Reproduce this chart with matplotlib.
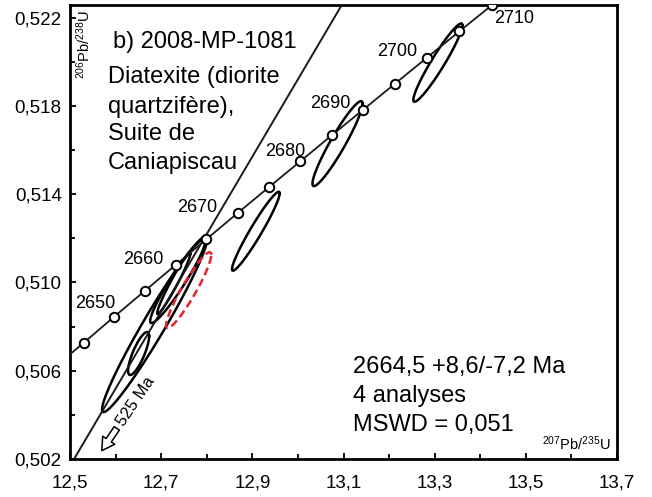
import numpy as np
import matplotlib
matplotlib.use("Agg")
import matplotlib.pyplot as plt
from matplotlib.ticker import MultipleLocator

plt.rcParams['font.family'] = ['Liberation Sans', 'DejaVu Sans']
plt.rcParams['mathtext.fontset'] = 'custom'
plt.rcParams['mathtext.rm'] = 'Liberation Sans'
plt.rcParams['mathtext.it'] = 'Liberation Sans:italic'
plt.rcParams['mathtext.bf'] = 'Liberation Sans:bold'
plt.rcParams['mathtext.default'] = 'regular'

# ---------------- data ----------------
# Concordia curve points (age in Ma, 207Pb/235U, 206Pb/238U)
conc_ages = [2640, 2645, 2650, 2655, 2660, 2665, 2670, 2675, 2680, 2685,
             2690, 2695, 2700, 2705, 2710]
conc_x = [12.4637, 12.5303, 12.5971, 12.6642, 12.7316, 12.7994, 12.8675,
          12.9360, 13.0048, 13.0739, 13.1434, 13.2132, 13.2834, 13.3539,
          13.4247]
conc_y = [0.50611, 0.50727, 0.50845, 0.50962, 0.51079, 0.51196, 0.51314,
          0.51431, 0.51548, 0.51666, 0.51783, 0.51901, 0.52019, 0.52137,
          0.52255]
label_ages = [2650, 2660, 2670, 2680, 2690, 2700, 2710]

# Analyses (error ellipses): 207/235, 2s, 206/238, 2s, rho
ell_x = [12.6857, 12.6505, 12.7363, 12.7275, 12.9077, 13.0868, 13.3070]
ell_sx = [0.1154, 0.0231, 0.0604, 0.0363, 0.0523, 0.0549, 0.0538]
ell_y = [0.50811, 0.50678, 0.51006, 0.50995, 0.51232, 0.51629, 0.51996]
ell_sy = [0.003985, 0.000974, 0.001902, 0.001381, 0.001789, 0.001925, 0.001775]
ell_rho = [0.970, 0.80, 0.950, 0.97, 0.96, 0.94, 0.95]

# Excluded analysis (red dashed)
red_x, red_sx, red_y, red_sy, red_rho = 12.7604, 0.04945, 0.50965, 0.001721, 0.93

# Discordia line end points
disc_x = [12.509, 13.097]
disc_y = [0.502, 0.5226]

xtick_vals = [12.5, 12.7, 12.9, 13.1, 13.3, 13.5, 13.7]
xtick_labels = ['12,5', '12,7', '12,9', '13,1', '13,3', '13,5', '13,7']
ytick_vals = [0.502, 0.506, 0.510, 0.514, 0.518, 0.522]
ytick_labels = ['0,502', '0,506', '0,510', '0,514', '0,518', '0,522']

sample_title = 'b) 2008-MP-1081'
sample_lines = ['Diatexite (diorite', 'quartzifère),', 'Suite de', 'Caniapiscau']
result_lines = ['2664,5 +8,6/-7,2 Ma', '4 analyses', 'MSWD = 0,051']

# ---------------- layout ----------------
label_offsets = {2650: (-19, 13), 2660: (-32, 5), 2670: (-40, 6),
                 2680: (-15, 10), 2690: (-33, 6), 2700: (-30, 6),
                 2710: (23, -13)}
sample_baselines = [83, 113, 140.5, 168.5]
result_baselines = [373, 402, 431.5]

fig = plt.figure(figsize=(6.52, 4.97), dpi=100)
ax = fig.add_axes([70/652, 1-459/497, (617-70)/652, (459-5)/497])
ax.set_xlim(12.5, 13.7)
ax.set_ylim(0.502, 0.52257)


def fx(px):
    return (px - 70) / 547


def fy(py):
    return (459 - py) / 454


t = np.linspace(0, 2*np.pi, 400)


def ellipse(cx, sx, cy, sy, rho):
    xs = cx + sx*np.cos(t)
    ys = cy + sy*(rho*np.cos(t) + np.sqrt(1-rho**2)*np.sin(t))
    return xs, ys


for cx, sx, cy, sy, r in zip(ell_x, ell_sx, ell_y, ell_sy, ell_rho):
    xs, ys = ellipse(cx, sx, cy, sy, r)
    ax.plot(xs, ys, color='black', lw=1.8, zorder=2)

xs, ys = ellipse(red_x, red_sx, red_y, red_sy, red_rho)
ax.plot(xs, ys, color='#e3242b', lw=1.8, ls=(0, (3.2, 1.7)), zorder=2)

ax.plot(disc_x, disc_y, color='#1a1a1a', lw=1.4, zorder=3)

ax.plot(conc_x, conc_y, color='#1a1a1a', lw=1.3, zorder=3)
ax.plot(conc_x, conc_y, ls='none', marker='o', ms=6.8, mfc='white',
        mec='black', mew=1.4, zorder=4)

for age, x, y in zip(conc_ages, conc_x, conc_y):
    if age in label_ages:
        dx, dy = label_offsets[age]
        ax.annotate(str(age), xy=(x, y), xytext=(dx, dy),
                    textcoords='offset pixels', ha='center', va='center',
                    fontsize=13, zorder=5)

# arrow toward lower intercept
ax.annotate('', xy=(12.5697, 0.50238), xytext=(12.6026, 0.50339),
            arrowprops=dict(arrowstyle='simple,head_length=0.6,head_width=0.7,tail_width=0.3',
                            fc='white', ec='black', lw=1.1, mutation_scale=15,
                            shrinkA=0, shrinkB=0))
ax.text(12.6455, 0.50462, '525 Ma', rotation=56, ha='center', va='center',
        fontsize=12, rotation_mode='anchor')

# text blocks
ax.text(fx(113), fy(48), sample_title, transform=ax.transAxes,
        ha='left', va='baseline', fontsize=17)
for line, b in zip(sample_lines, sample_baselines):
    ax.text(fx(108), fy(b), line, transform=ax.transAxes, ha='left',
            va='baseline', fontsize=17)
for line, b in zip(result_lines, result_baselines):
    ax.text(fx(353), fy(b), line, transform=ax.transAxes, ha='left',
            va='baseline', fontsize=17)

ax.text(fx(84), fy(45), r'$^{206}$Pb/$^{238}$U', rotation=90,
        transform=ax.transAxes, ha='center', va='center', fontsize=10.5)
ax.text(fx(576), fy(444), r'$^{207}$Pb/$^{235}$U',
        transform=ax.transAxes, ha='center', va='center', fontsize=10.5)

ax.set_xticks(xtick_vals)
ax.set_xticklabels(xtick_labels)
ax.set_yticks(ytick_vals)
ax.set_yticklabels(ytick_labels)
ax.xaxis.set_minor_locator(MultipleLocator(0.1))
ax.yaxis.set_minor_locator(MultipleLocator(0.002))
ax.tick_params(which='both', direction='in', width=1.3, colors='black',
               top=False, right=False)
ax.tick_params(which='major', length=4)
ax.tick_params(which='minor', length=3.5)
ax.tick_params(axis='x', which='major', labelsize=13.5, pad=11)
ax.tick_params(axis='y', which='major', labelsize=13.5, pad=6)
for s in ax.spines.values():
    s.set_linewidth(2.0)

fig.savefig('out.png', dpi=100)
